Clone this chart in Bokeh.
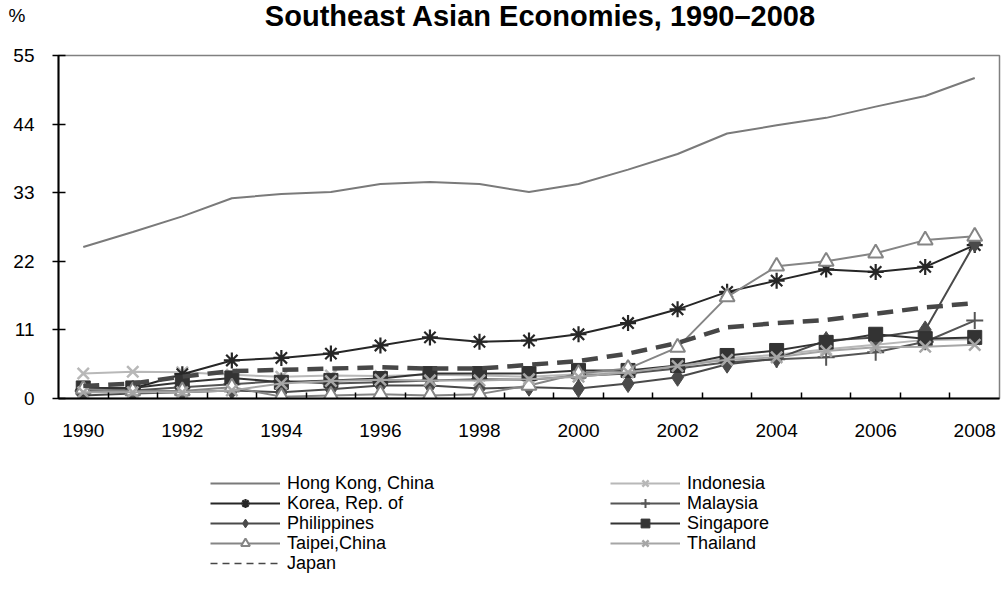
from bokeh.plotting import figure
from bokeh.models import FixedTicker, Legend, LegendItem, Label, Range1d
from bokeh.layouts import column
from bokeh.embed import file_html
from bokeh.resources import INLINE

years = list(range(1990, 2009))
hong_kong = [24.3, 26.7, 29.2, 32.1, 32.8, 33.1, 34.4, 34.7, 34.4, 33.1, 34.4, 36.7, 39.2, 42.5, 43.8, 45.0, 46.8, 48.5, 51.4]
indonesia = [4.0, 4.3, 4.2, 3.8, 3.5, 3.7, 3.6, 3.8, 3.7, 3.5, 3.9, 4.2, 5.0, 6.5, 7.0, 7.9, 8.6, 9.4, 9.5]
korea = [1.4, 1.6, 3.9, 6.1, 6.5, 7.2, 8.5, 9.8, 9.1, 9.3, 10.3, 12.1, 14.3, 17.1, 18.9, 20.7, 20.3, 21.1, 24.6]
malaysia = [1.2, 1.3, 1.8, 2.3, 2.8, 2.4, 2.6, 2.9, 3.1, 3.0, 3.6, 4.0, 4.8, 5.8, 6.3, 6.6, 7.4, 9.1, 12.5]
philippines = [0.5, 0.8, 1.0, 1.3, 1.0, 1.5, 2.1, 2.1, 1.6, 1.8, 1.6, 2.4, 3.4, 5.5, 6.4, 9.3, 9.8, 11.0, 24.9]
singapore = [1.7, 1.7, 2.6, 3.3, 2.6, 2.9, 3.2, 4.0, 4.0, 4.0, 4.5, 4.5, 5.3, 6.9, 7.7, 9.0, 10.3, 9.6, 9.8]
taipei = [1.5, 1.2, 1.2, 1.8, 0.3, 0.5, 0.7, 0.5, 0.7, 2.1, 4.0, 4.8, 8.2, 16.3, 21.2, 22.0, 23.3, 25.4, 26.0]
thailand = [1.0, 1.0, 1.0, 1.3, 2.4, 2.8, 3.0, 2.9, 2.9, 3.1, 3.5, 4.2, 5.2, 6.2, 6.6, 7.6, 8.2, 8.3, 8.6]
japan = [2.0, 2.4, 3.5, 4.4, 4.6, 4.8, 5.0, 4.8, 4.8, 5.4, 6.0, 7.2, 8.9, 11.4, 12.1, 12.6, 13.6, 14.6, 15.3]

y_ticks = [0, 11, 22, 33, 44, 55]
x_label_years = [1990, 1992, 1994, 1996, 1998, 2000, 2002, 2004, 2006, 2008]
x_tick_labels = ["1990", "1992", "1994", "1996", "1998", "2000", "2002", "2004", "2006", "2008"]
title_text = "Southeast Asian Economies, 1990\u20132008"
unit_text = "%"
legend_left = ["Hong Kong, China", "Korea, Rep. of", "Philippines", "Taipei,China", "Japan"]
legend_right = ["Indonesia", "Malaysia", "Singapore", "Thailand"]

FONT = "Liberation Sans"

p = figure(width=1003, height=440, output_backend="svg", toolbar_location=None,
           x_range=Range1d(1989.5, 2008.5), y_range=Range1d(0, 55),
           min_border_left=58, min_border_right=4, min_border_top=55,
           min_border_bottom=42, background_fill_color="white",
           border_fill_color="white")
p.grid.visible = False
p.outline_line_color = "#808080"
p.outline_line_width = 1.5

# y axis
p.yaxis.ticker = FixedTicker(ticks=y_ticks)
p.yaxis.major_tick_in = 7
p.yaxis.major_tick_out = 6
p.yaxis.major_tick_line_width = 1.5
p.yaxis.major_tick_line_color = "black"
p.yaxis.minor_tick_line_color = None
p.yaxis.axis_line_width = 2
p.yaxis.axis_line_color = "black"
p.yaxis.major_label_standoff = 18
p.yaxis.major_label_text_font = FONT
p.yaxis.major_label_text_font_size = "19px"
p.yaxis.major_label_text_color = "black"

# x axis
half_years = [y + 0.5 for y in years[:-1]]
p.xaxis.ticker = FixedTicker(ticks=x_label_years, minor_ticks=half_years)
p.xaxis.major_label_overrides = {y: s for y, s in zip(x_label_years, x_tick_labels)}
p.xaxis.major_tick_line_color = None
p.xaxis.minor_tick_in = 6
p.xaxis.minor_tick_out = 0
p.xaxis.minor_tick_line_width = 1.5
p.xaxis.minor_tick_line_color = "black"
p.xaxis.axis_line_width = 2
p.xaxis.axis_line_color = "black"
p.xaxis.major_label_standoff = 19
p.xaxis.major_label_text_font = FONT
p.xaxis.major_label_text_font_size = "19px"
p.xaxis.major_label_text_color = "black"

series = [
    ("Hong Kong, China", hong_kong, "#7a7a7a", None, {}),
    ("Indonesia", indonesia, "#b8b8b8", "x", dict(size=16, line_width=2.5, line_color="#b8b8b8")),
    ("Korea, Rep. of", korea, "#262626", "asterisk", dict(size=16, line_width=2.2, line_color="#262626")),
    ("Malaysia", malaysia, "#555555", "cross", dict(size=17, line_width=2, line_color="#555555")),
    ("Philippines", philippines, "#4a4a4a", "diamond", dict(size=18, line_color="#4a4a4a", fill_color="#4a4a4a")),
    ("Singapore", singapore, "#333333", "square", dict(size=14, line_color="#333333", fill_color="#333333")),
    ("Taipei,China", taipei, "#858585", "triangle", dict(size=15, line_width=2, line_color="#858585", fill_color="white")),
    ("Thailand", thailand, "#a6a6a6", "x", dict(size=16, line_width=2.5, line_color="#a6a6a6")),
]

for name, vals, col, marker, mk in series:
    p.line(years, vals, line_color=col, line_width=2)
    if marker:
        p.scatter(years, vals, marker=marker, **mk)
p.line(years, japan, line_color="#474747", line_width=4.5, line_dash="16 9")

# texts above the plot area
p.add_layout(Label(x=-50, y=40, x_units="screen", y_units="screen", text=unit_text,
                   text_font=FONT, text_font_size="19px",
                   text_align="left", text_baseline="middle", text_color="black"), "above")
p.add_layout(Label(x=482, y=19, x_units="screen", y_units="screen", text=title_text,
                   text_font=FONT, text_font_style="bold", text_font_size="29px",
                   text_align="center", text_baseline="middle", text_color="black"), "above")

# legend panel below the chart (its view range leaves the series off-screen;
# the renderers only supply the legend swatches)
q = figure(width=1003, height=152, output_backend="svg", toolbar_location=None,
           x_axis_type=None, y_axis_type=None, x_range=Range1d(0, 1), y_range=Range1d(0, 1),
           min_border=0, outline_line_color=None, background_fill_color="white",
           border_fill_color="white")
q.grid.visible = False

items = {}
for name, vals, col, marker, mk in series:
    rs = [q.line(years, vals, line_color=col, line_width=2)]
    if marker:
        rs.append(q.scatter(years, vals, marker=marker, **mk))
    items[name] = LegendItem(label=name, renderers=rs)
items["Japan"] = LegendItem(label="Japan", renderers=[
    q.line(years, japan, line_color="#474747", line_width=1.5, line_dash="7 5")])

leg_kw = dict(padding=0, margin=0, spacing=0, glyph_width=70, glyph_height=22,
              label_height=22, label_standoff=7, border_line_color=None,
              background_fill_alpha=0, label_text_font=FONT,
              label_text_font_size="18px", label_text_color="black")
row_y = [98, 78, 58, 38, 18]
for i, name in enumerate(legend_left):
    q.add_layout(Legend(items=[items[name]], location=(152, row_y[i]), **leg_kw))
for i, name in enumerate(legend_right):
    q.add_layout(Legend(items=[items[name]], location=(552, row_y[i]), **leg_kw))

page = column(p, q, spacing=0)
open("out.html", "w").write(file_html(page, INLINE))
